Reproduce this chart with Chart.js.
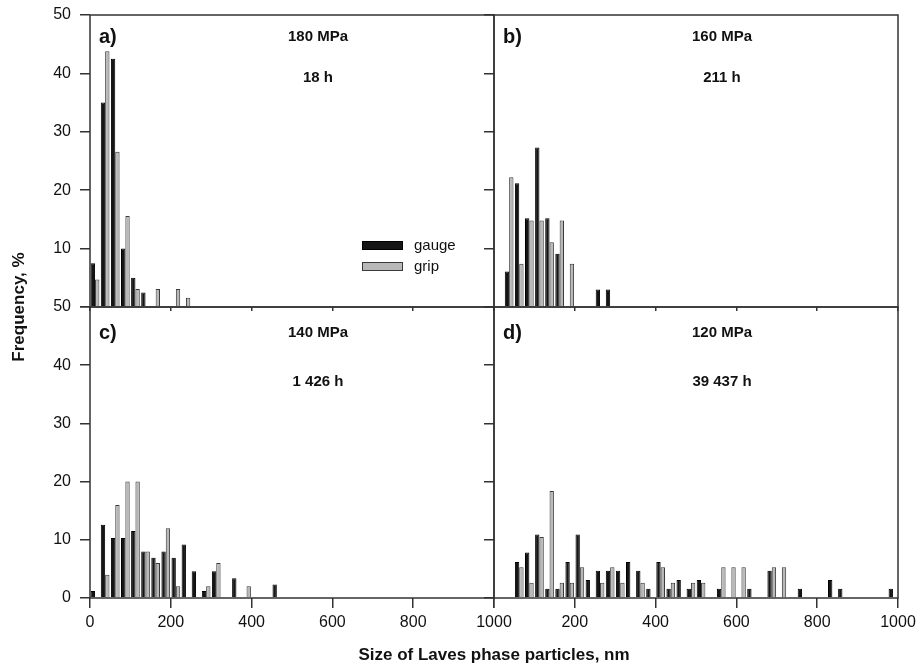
<!DOCTYPE html>
<html>
<head>
<meta charset="utf-8">
<title>Laves phase particle size</title>
<script src="https://cdn.jsdelivr.net/npm/chart.js@4.4.0/dist/chart.umd.min.js"></script>
<style>
  body { margin: 0; background: #fff; }
  #wrap { position: relative; width: 921px; height: 672px; }
  #wrap canvas { position: absolute; left: 0; top: 0; }
</style>
</head>
<body>
<div id="wrap">
  <canvas id="pa" width="921" height="672"></canvas>
  <canvas id="pb" width="921" height="672"></canvas>
  <canvas id="pc" width="921" height="672"></canvas>
  <canvas id="pd" width="921" height="672"></canvas>
</div>
<script>
// histogram bins are 25 nm wide, index 0 = 0-25 nm
const binWidth = 25;
const xTicks = [0, 200, 400, 600, 800, 1000];
const yTicks = [0, 10, 20, 30, 40, 50];

// a) 180 MPa, 18 h
const aGauge = [7.5, 35, 42.5, 10, 5, 2.5];
const aGrip  = [4.7, 43.8, 26.6, 15.6, 3.1, 0, 3.1, 0, 3.1, 1.6];
// b) 160 MPa, 211 h
const bGauge = [0, 6.1, 21.2, 15.2, 27.3, 15.2, 9.1, 0, 0, 0, 3.0, 3.0];
const bGrip  = [0, 22.2, 7.4, 14.8, 14.8, 11.1, 14.8, 7.4];
// c) 140 MPa, 1 426 h
const cGauge = [1.2, 12.6, 10.3, 10.3, 11.5, 8.0, 6.9, 8.0, 6.9, 9.2, 4.6, 1.2, 4.6, 0, 3.4, 0, 0, 0, 2.3];
const cGrip  = [0, 4, 16, 20, 20, 8, 6, 12, 2, 0, 0, 2, 6, 0, 0, 2];
// d) 120 MPa, 39 437 h
const dGauge = [0, 0, 6.2, 7.8, 10.9, 1.6, 1.6, 6.2, 10.9, 3.1, 4.7, 4.7, 4.7, 6.2, 4.7, 1.6, 6.2, 1.6, 3.1, 1.6,
                3.1, 0, 1.6, 0, 0, 1.6, 0, 4.7, 0, 0, 1.6, 0, 0, 3.1, 1.6, 0, 0, 0, 0, 1.6];
const dGrip  = [0, 0, 5.3, 2.6, 10.5, 18.4, 2.6, 2.6, 5.3, 0, 2.6, 5.3, 2.6, 0, 2.6, 0, 5.3, 2.6, 0, 2.6,
                2.6, 0, 5.3, 5.3, 5.3, 0, 0, 5.3, 5.3];

const font = "'Liberation Sans', Arial, sans-serif";
const ink = '#333';

function toPoints(vals) {
  return vals.map((v, i) => ({ x: binWidth * i + binWidth / 2, y: v > 0 ? v : null }));
}

// box around each panel plus the panel captions
const frame = {
  id: 'frame',
  afterDraw(chart, args, o) {
    const { ctx, chartArea: a } = chart;
    ctx.save();
    ctx.strokeStyle = ink;
    ctx.lineWidth = 1.5;
    ctx.strokeRect(a.left, a.top, a.right - a.left, a.bottom - a.top);
    ctx.fillStyle = '#111';
    ctx.textBaseline = 'middle';
    ctx.textAlign = 'left';
    ctx.font = 'bold 20px ' + font;
    ctx.fillText(o.tag, a.left + 9, a.top + o.dy[0]);
    ctx.textAlign = 'center';
    ctx.font = 'bold 15px ' + font;
    ctx.fillText(o.stress, a.left + 228, a.top + o.dy[0]);
    ctx.fillText(o.time, a.left + 228, a.top + o.dy[1]);
    ctx.restore();
  }
};

// legend and shared axis titles, drawn once on panel a
const extras = {
  id: 'extras',
  afterDraw(chart) {
    const ctx = chart.ctx;
    const ds = chart.data.datasets;
    ctx.save();
    ctx.lineWidth = 1;
    ds.forEach((d, i) => {
      const y = 241 + i * 21;
      ctx.fillStyle = d.backgroundColor;
      ctx.strokeStyle = d.borderColor;
      ctx.fillRect(362, y, 41, 9);
      ctx.strokeRect(362.5, y + 0.5, 40, 8);
      ctx.fillStyle = '#111';
      ctx.font = '15px ' + font;
      ctx.textAlign = 'left';
      ctx.textBaseline = 'middle';
      ctx.fillText(d.label, 414, y + 5);
    });
    ctx.font = 'bold 17px ' + font;
    ctx.textAlign = 'center';
    ctx.fillText('Size of Laves phase particles, nm', 494, 655);
    ctx.translate(19, 307);
    ctx.rotate(-Math.PI / 2);
    ctx.fillText('Frequency, %', 0, 0);
    ctx.restore();
  }
};

function panel(id, gauge, grip, cfg) {
  new Chart(document.getElementById(id), {
    type: 'bar',
    data: {
      datasets: [
        { label: 'gauge', data: toPoints(gauge), backgroundColor: '#151515', borderColor: '#000',
          borderWidth: 1, categoryPercentage: 0.86, barPercentage: 1 },
        { label: 'grip', data: toPoints(grip), backgroundColor: '#b8b8b8', borderColor: '#3a3a3a',
          borderWidth: 1, categoryPercentage: 0.86, barPercentage: 1 }
      ]
    },
    options: {
      responsive: false,
      animation: false,
      layout: { padding: cfg.pad },
      plugins: { legend: { display: false }, tooltip: { enabled: false }, frame: cfg.text },
      scales: {
        x: {
          type: 'linear', min: 0, max: 1000, offset: false,
          afterBuildTicks: s => { s.ticks = xTicks.map(v => ({ value: v })); },
          afterFit: s => { s.height = cfg.xH; s.paddingLeft = 0; s.paddingRight = 0; },
          border: { display: false },
          grid: { offset: false, drawOnChartArea: false, tickLength: cfg.xTick, tickColor: ink, lineWidth: 1.5 },
          ticks: {
            display: cfg.xLabels, autoSkip: false, maxRotation: 0, padding: 5, color: '#111',
            font: { family: font, size: 16 },
            callback: v => (cfg.hideX0 && v === 0) ? '' : v
          }
        },
        y: {
          min: 0, max: 50,
          afterBuildTicks: s => { s.ticks = yTicks.map(v => ({ value: v })); },
          afterFit: s => { s.width = cfg.yW; s.paddingTop = 0; s.paddingBottom = 0; },
          border: { display: false },
          grid: { drawOnChartArea: false, tickLength: 10, tickColor: ink, lineWidth: 1.5 },
          ticks: {
            display: cfg.yLabels, padding: 9, color: '#111',
            font: { family: font, size: 16 },
            callback: v => (cfg.hideY0 && v === 0) ? '' : v
          }
        }
      }
    },
    plugins: cfg.extra ? [frame, extras] : [frame]
  });
}

panel('pa', aGauge, aGrip, {
  pad: { left: 30, top: 15, right: 427, bottom: 361 }, xH: 4, xTick: 4, yW: 60,
  xLabels: false, yLabels: true, hideY0: true, extra: true,
  text: { tag: 'a)', stress: '180 MPa', time: '18 h', dy: [22, 63] }
});
panel('pb', bGauge, bGrip, {
  pad: { left: 484, top: 15, right: 23, bottom: 361 }, xH: 4, xTick: 4, yW: 10,
  xLabels: false, yLabels: false,
  text: { tag: 'b)', stress: '160 MPa', time: '211 h', dy: [22, 63] }
});
panel('pc', cGauge, cGrip, {
  pad: { left: 30, top: 307, right: 427, bottom: 34 }, xH: 40, xTick: 10, yW: 60,
  xLabels: true, yLabels: true,
  text: { tag: 'c)', stress: '140 MPa', time: '1 426 h', dy: [26, 75] }
});
panel('pd', dGauge, dGrip, {
  pad: { left: 484, top: 307, right: 23, bottom: 34 }, xH: 40, xTick: 10, yW: 10,
  xLabels: true, yLabels: false, hideX0: true,
  text: { tag: 'd)', stress: '120 MPa', time: '39 437 h', dy: [26, 75] }
});
</script>
</body>
</html>
